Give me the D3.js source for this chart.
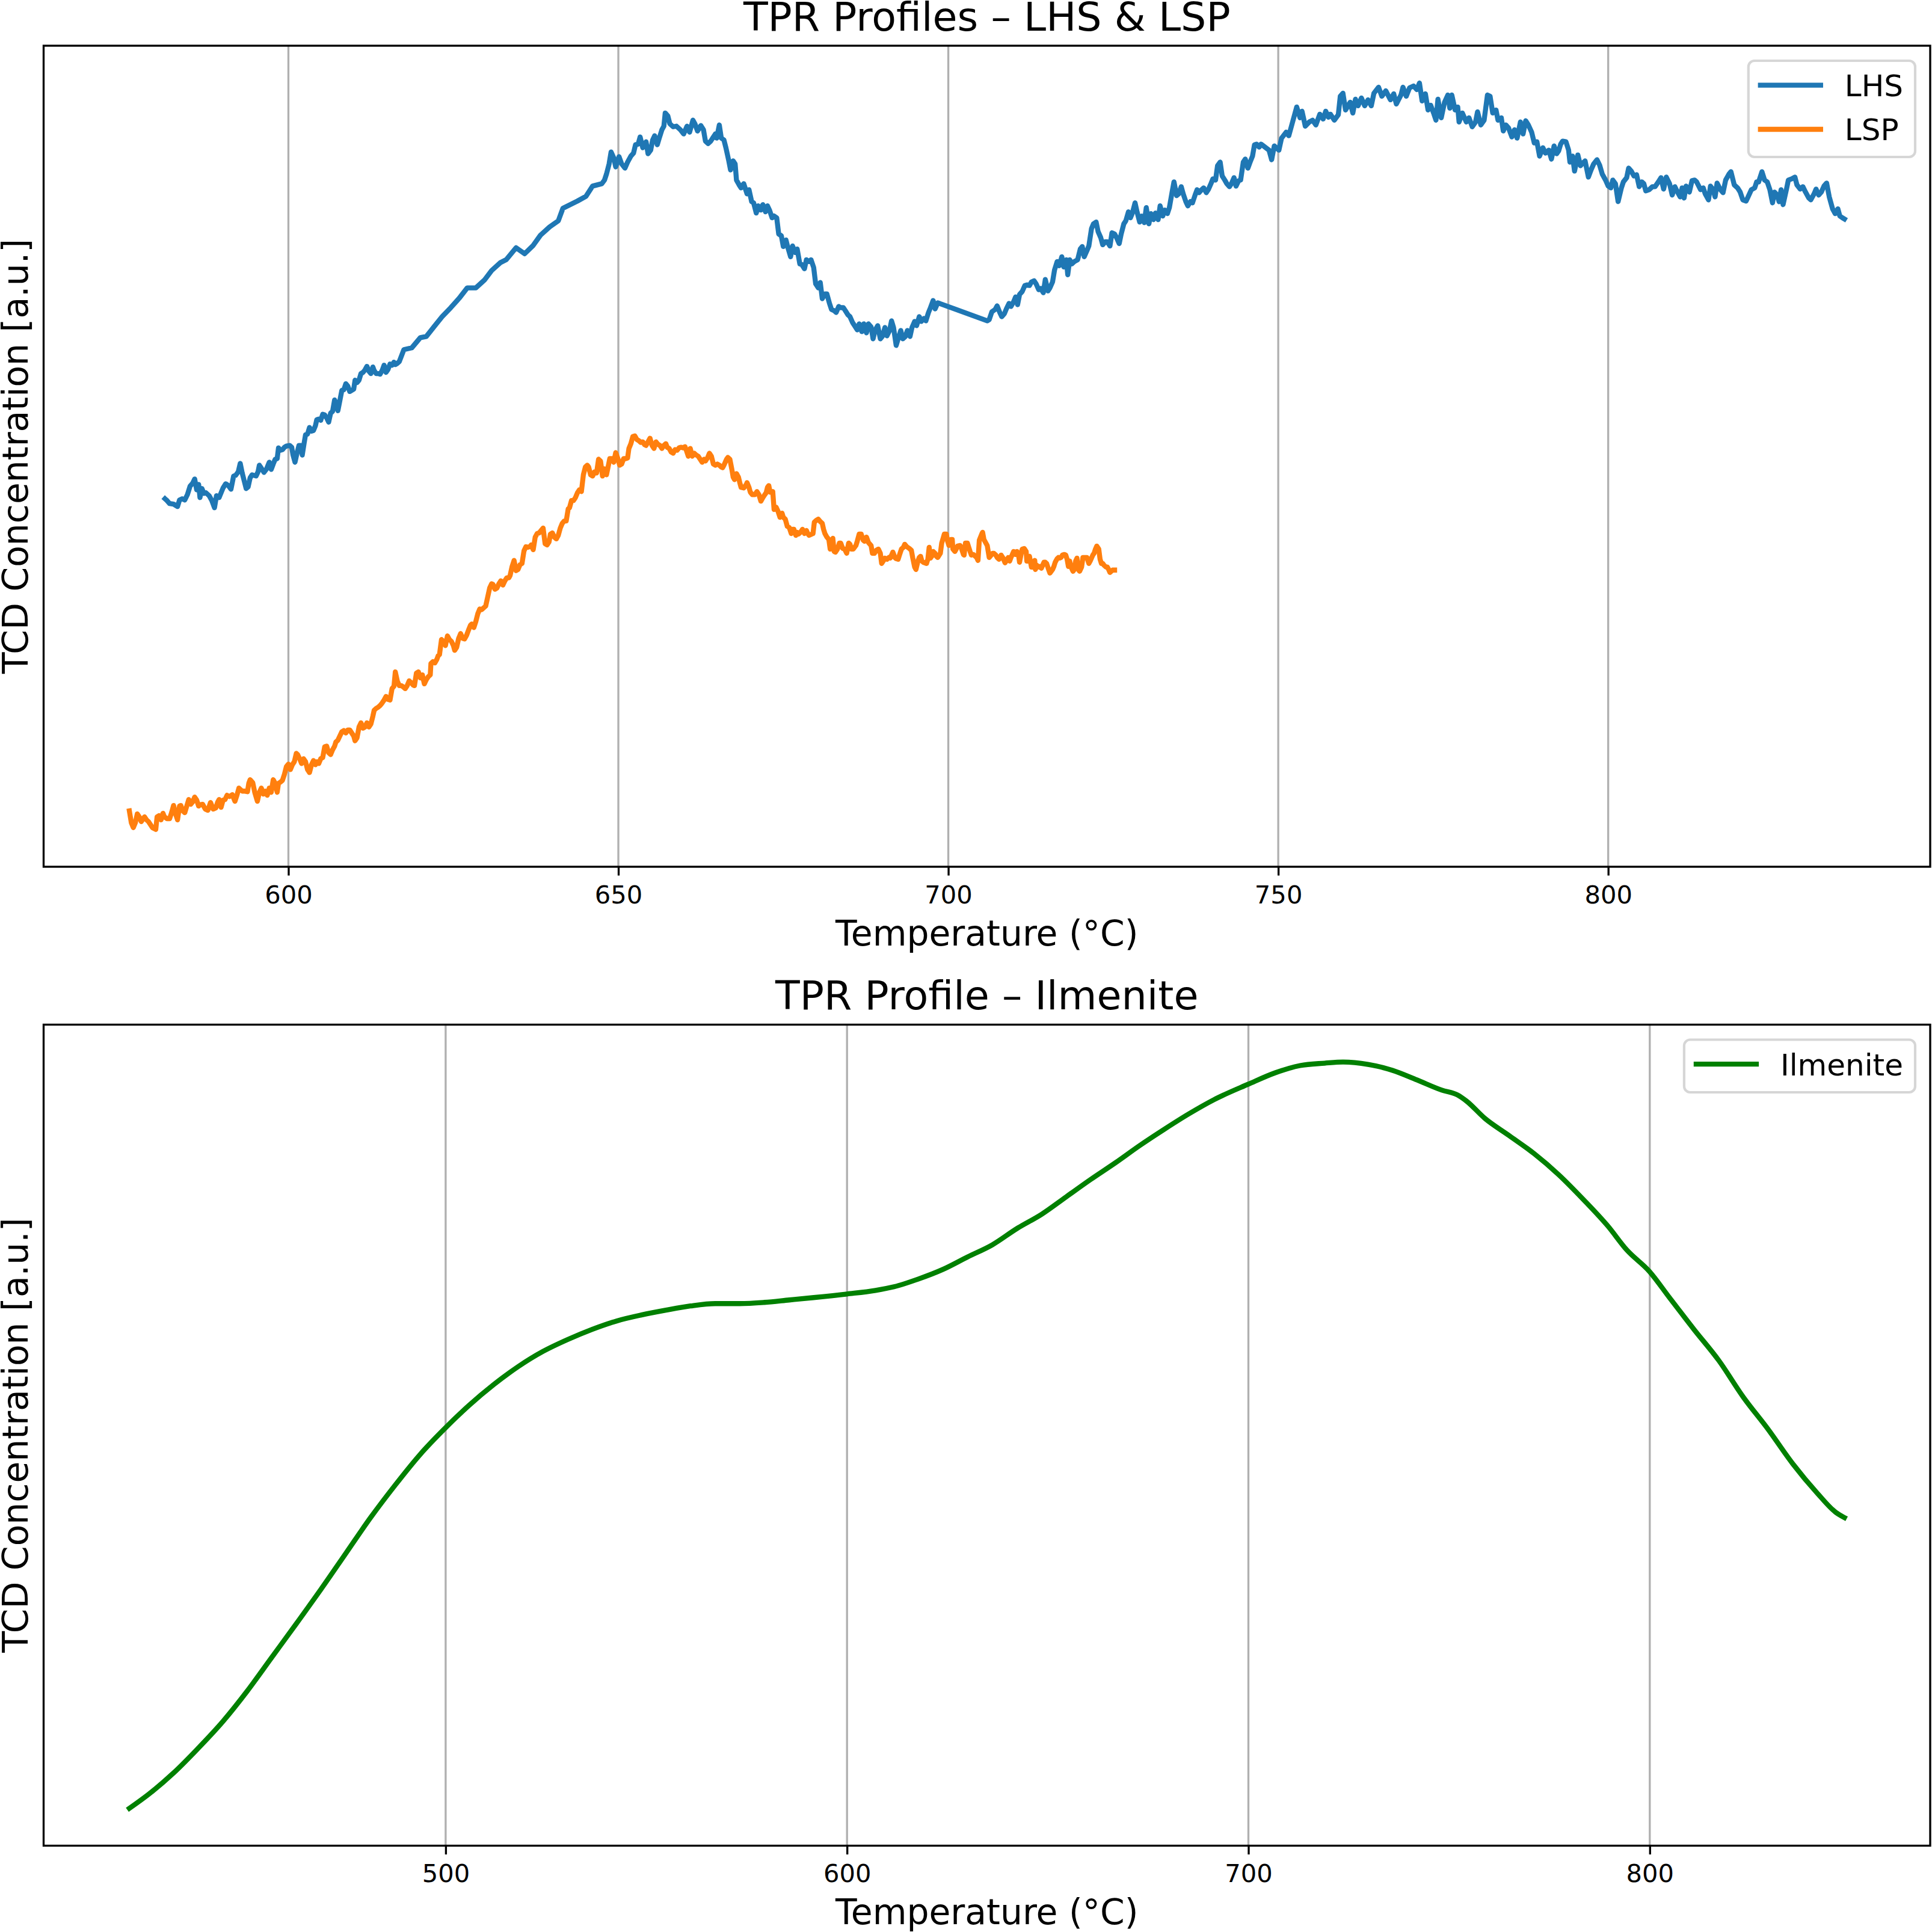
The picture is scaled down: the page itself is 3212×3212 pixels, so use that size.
<!DOCTYPE html>
<html>
<head>
<meta charset="utf-8">
<script src="https://cdn.jsdelivr.net/npm/d3@7"></script>
<style>
  body { margin: 0; background: #fff; }
  text { font-family: "DejaVu Sans", sans-serif; }
</style>
</head>
<body>
<svg id="chart"></svg>
<script>
// [temperature °C, TCD signal a.u.]
const lhsPoints = [
  [581.3,61.1],[581.6,60.8],[582.0,60.3],[582.6,60.2],[583.2,59.8],[583.5,60.9],[583.9,61.1],[584.3,60.9],[584.7,61.8],[585.1,63.2],
  [585.5,63.7],[585.8,64.4],[586.1,62.6],[586.4,63.5],[586.6,61.3],[586.9,62.8],[587.2,62.0],[587.5,62.1],[588.0,61.6],[588.4,60.8],
  [588.8,59.6],[589.1,61.6],[589.5,61.3],[589.8,62.1],[590.1,62.9],[590.5,63.6],[590.9,63.3],[591.3,62.7],[591.7,64.9],[592.0,65.0],
  [592.4,65.6],[592.7,67.0],[593.0,65.4],[593.3,64.1],[593.6,62.8],[593.9,63.1],[594.2,64.6],[594.5,65.1],[595.1,64.9],[595.4,65.6],
  [595.6,66.7],[595.9,66.2],[596.3,65.5],[596.7,66.1],[597.1,67.2],[597.4,66.0],[597.7,66.9],[598.0,67.7],[598.3,67.8],[598.5,69.6],
  [598.8,69.2],[599.1,69.3],[599.4,69.7],[599.7,69.9],[600.2,70.0],[600.5,69.7],[600.7,68.4],[601.0,67.2],[601.3,68.7],[601.6,70.0],
  [601.9,70.0],[602.1,68.4],[602.4,70.5],[602.6,71.8],[602.9,71.9],[603.2,73.0],[603.5,72.4],[603.8,72.5],[604.1,73.3],[604.3,74.3],
  [604.6,74.4],[604.9,74.2],[605.2,75.2],[605.5,75.1],[605.8,74.6],[606.1,73.9],[606.4,75.4],[606.7,75.7],[607.0,77.6],[607.2,77.1],
  [607.5,75.8],[607.8,77.5],[608.1,79.2],[608.4,79.3],[608.7,80.3],[609.0,79.9],[609.3,79.0],[609.6,79.2],[609.9,79.4],[610.1,80.9],
  [610.4,80.5],[610.7,80.9],[611.0,82.0],[611.3,82.2],[611.6,82.6],[611.9,83.2],[612.2,82.4],[612.5,82.0],[612.8,83.1],[613.0,82.5],
  [613.3,82.0],[613.6,82.0],[613.9,81.9],[614.2,82.5],[614.5,83.4],[614.8,82.2],[615.1,82.7],[615.4,83.6],[615.7,83.4],[616.0,83.9],
  [616.2,83.5],[616.5,83.7],[616.8,84.0],[617.5,86.0],[618.7,86.3],[620.0,88.0],[620.9,88.2],[622.2,90.0],[623.3,91.5],[624.6,93.0],
  [625.9,94.6],[627.1,96.3],[628.4,96.3],[629.7,97.6],[630.8,99.2],[632.1,100.5],[633.0,101.0],[634.5,103.0],[635.8,102.0],[637.1,103.4],
  [638.2,105.1],[639.6,106.5],[640.9,107.5],[641.6,109.6],[642.7,110.2],[643.8,110.8],[645.1,111.6],[646.1,113.3],
  [647.5,113.7],[647.9,114.3],[648.2,115.3],[648.6,117.0],[648.9,119.0],[649.3,118.0],[649.6,116.5],[650.1,118.2],[650.5,117.0],[651.0,116.3],
  [651.4,117.3],[651.9,118.3],[652.3,118.8],[652.6,120.2],[653.0,120.3],[653.3,121.5],[653.7,119.7],[654.2,120.7],[654.5,118.7],[654.9,119.3],
  [655.2,121.0],[655.5,121.7],[655.9,120.2],[656.2,121.3],[656.6,122.7],[656.9,123.3],[657.1,125.5],[657.5,125.0],[657.8,123.7],[658.3,123.2],
  [658.8,123.3],[659.4,122.7],[659.9,122.0],[660.4,123.3],[660.8,122.3],[661.3,124.3],[661.6,123.7],[662.0,122.5],[662.5,123.4],[662.9,122.7],
  [663.2,120.8],[663.6,120.4],[664.0,120.8],[664.4,121.5],[664.7,122.0],[664.9,121.3],[665.3,123.5],[665.6,121.3],[666.0,121.0],[666.3,119.7],
  [666.7,117.7],[667.0,116.0],[667.4,117.5],[667.7,117.0],[667.9,114.3],[668.3,113.5],[668.6,113.0],[669.0,113.7],[669.5,112.0],[669.8,112.7],
  [670.2,110.7],[670.5,110.5],[670.9,108.8],[671.2,110.0],[671.6,109.3],[671.9,110.2],[672.3,109.0],[672.6,110.0],[672.9,109.3],[673.3,108.0],
  [673.6,108.3],[674.0,108.0],[674.3,105.3],[674.7,105.0],[675.0,103.2],[675.4,104.3],[675.7,103.0],[676.1,101.5],[676.4,103.3],[676.8,102.2],
  [677.1,102.8],[677.5,100.3],[677.8,100.2],[678.2,99.5],[678.5,101.0],[678.9,100.7],[679.2,101.0],[679.6,99.7],[679.9,97.0],[680.3,96.3],
  [680.6,97.2],[680.9,94.5],[681.3,95.3],[681.6,95.3],[682.0,93.7],[682.3,92.7],[682.7,92.5],[683.0,92.2],[683.4,93.2],[683.7,93.0],
  [684.1,93.0],[684.4,92.5],[684.8,91.8],[685.1,91.5],[685.5,90.5],[685.8,90.0],[686.2,89.3],[686.5,90.3],[686.9,89.0],[687.2,90.3],
  [687.6,88.8],[687.9,90.3],[688.3,89.8],[688.6,87.8],[688.9,89.2],[689.3,90.0],[689.7,87.8],[690.0,88.2],[690.4,89.7],[690.7,88.3],
  [691.1,89.2],[691.4,90.8],[691.7,89.7],[692.1,86.7],[692.4,87.8],[692.8,89.2],[693.1,87.8],[693.5,88.2],[693.8,89.2],[694.2,88.2],
  [694.5,89.7],[694.9,90.7],[695.2,90.0],[695.6,91.5],[695.9,90.7],[696.3,91.2],[696.6,90.8],[697.0,92.2],[697.3,93.0],[697.7,94.2],
  [698.0,92.8],[698.4,93.8],[698.7,93.7],
  [705.9,90.8],[706.2,91.0],[706.6,92.3],[707.1,92.7],[707.4,93.3],[707.8,92.2],[708.1,91.5],[708.5,92.0],[708.8,92.8],[709.2,93.7],
  [709.5,93.2],[709.9,94.0],[710.2,94.8],[710.5,93.5],[710.8,95.2],[711.2,95.7],[711.6,96.7],[711.9,96.8],[712.3,96.7],[712.6,97.3],
  [713.0,97.5],[713.3,97.0],[713.7,96.0],[714.0,96.2],[714.4,95.5],[714.7,97.7],[715.1,95.8],[715.4,96.3],[715.8,97.3],[716.1,99.3],
  [716.5,100.7],[716.8,100.0],[717.2,101.5],[717.5,99.8],[717.9,101.0],[718.1,98.5],[718.4,101.0],[718.7,100.3],[719.1,100.7],[719.6,101.0],
  [720.0,102.8],[720.3,103.2],[720.6,101.5],[721.0,102.5],[721.3,103.3],[721.7,106.2],[722.0,107.0],[722.4,107.3],[722.7,105.7],[723.1,104.7],
  [723.4,103.5],[723.8,104.0],[724.1,104.0],[724.5,103.3],[724.8,105.5],[725.2,105.3],[725.5,104.7],[725.9,103.7],[726.2,105.3],[726.6,107.0],
  [726.9,107.5],[727.3,109.0],[727.6,108.0],[727.9,108.8],[728.3,110.5],[728.6,109.0],[729.0,107.3],[729.3,108.3],[729.7,107.2],[730.0,109.7],
  [730.4,107.0],[730.7,108.7],[731.1,107.7],[731.4,108.8],[731.8,107.7],[732.1,110.0],[732.5,108.3],[732.8,109.3],[733.2,108.7],[733.5,109.7],
  [733.9,112.2],[734.2,114.0],[734.6,111.7],[734.9,112.0],[735.3,113.2],[735.6,112.0],[736.0,110.7],[736.3,110.0],[736.7,110.7],[737.0,110.5],
  [737.4,111.8],[737.7,112.7],[738.0,112.2],[738.4,112.7],[738.7,113.0],[739.1,112.2],[739.4,112.7],[739.8,113.7],[740.1,114.5],[740.5,114.3],
  [740.8,116.7],[741.2,117.3],[741.5,115.0],[741.9,114.3],[742.2,113.7],[742.6,113.2],[742.9,113.7],[743.3,114.7],[743.6,113.3],[744.0,114.2],
  [744.3,114.3],[744.7,117.3],[745.0,117.8],[745.4,116.3],[745.7,117.2],[746.1,118.3],[746.4,120.2],[746.7,120.3],[747.1,119.8],[747.4,120.3],
  [748.6,119.3],[749.0,117.7],[749.4,120.0],[750.1,119.3],[750.5,121.3],[751.2,122.3],[751.6,121.7],[752.1,123.7],[752.8,126.5],[753.3,124.7],
  [753.6,125.8],[754.1,123.3],[754.7,124.0],[755.2,124.3],[755.7,123.5],[756.3,125.3],[756.8,124.5],[757.2,125.8],[757.6,124.8],[757.9,125.3],
  [758.5,124.3],[759.1,125.2],[759.4,128.3],[759.8,128.8],[760.2,126.0],[760.9,127.3],[761.3,125.5],[761.7,127.8],[762.1,126.7],[762.6,128.0],
  [763.1,126.7],[763.6,127.7],[764.1,126.7],[764.5,128.8],[765.2,129.8],[765.7,128.3],[766.3,129.2],[767.0,127.7],[767.5,128.7],[767.9,127.0],
  [768.6,128.5],[768.9,129.8],[769.4,128.3],[769.9,129.7],[770.5,130.0],[771.0,129.4],[771.4,130.5],[771.8,127.5],[772.3,128.7],[772.7,126.0],
  [773.1,126.8],[773.6,125.3],[773.9,124.3],[774.2,127.8],[774.7,124.7],[775.2,127.3],[775.7,128.5],[776.0,126.3],[776.3,128.5],[776.8,126.0],
  [777.2,126.5],[777.4,124.0],[777.9,125.5],[778.5,124.0],[778.9,124.7],[779.4,123.2],[779.9,124.0],[780.2,125.7],[780.7,123.5],[781.2,124.3],
  [781.7,128.5],[782.1,128.3],[782.5,125.5],[783.0,126.0],[783.3,124.3],[783.8,124.7],[784.1,122.5],[784.5,123.5],[784.9,123.0],[785.4,121.5],
  [785.8,122.7],[786.2,121.3],[786.7,124.0],[787.1,122.0],[787.5,124.2],[787.9,123.5],[788.4,122.3],[788.8,120.5],[789.2,120.7],[789.6,118.3],
  [790.1,119.7],[790.5,118.8],[791.0,119.3],[791.4,117.8],[791.8,120.0],[792.2,118.7],[792.5,119.2],[792.8,120.3],[793.1,120.8],[793.6,120.7],
  [794.0,119.3],[794.2,117.3],[794.6,118.3],[794.9,115.8],[795.4,118.5],[795.8,116.7],[796.2,117.2],[796.5,117.5],[797.0,114.8],[797.4,116.0],
  [797.8,117.0],[798.3,117.7],[798.7,116.8],[799.1,115.3],[799.6,114.3],[800.0,113.3],[800.4,113.0],[800.7,114.3],[801.1,113.7],[801.5,110.7],
  [802.0,113.0],[802.3,114.0],[802.8,114.7],[803.1,116.3],[803.5,115.8],[803.9,115.0],[804.3,115.2],[804.7,113.2],[805.1,114.0],[805.4,113.7],
  [805.7,112.5],[806.2,112.7],[806.7,113.2],[807.1,113.2],[807.6,114.0],[808.0,114.7],[808.4,112.8],[808.8,114.8],[809.3,113.7],[809.7,111.8],
  [810.1,113.2],[810.5,112.3],[810.9,111.5],[811.2,113.0],[811.5,111.3],[811.8,113.3],[812.3,112.3],[812.7,114.2],[813.1,114.3],[813.4,114.0],
  [814.0,112.7],[814.4,113.0],[814.7,112.0],[815.2,111.0],[815.5,113.3],[815.9,112.7],[816.2,111.5],[816.5,113.8],[817.0,112.7],[817.4,112.2],
  [817.8,114.3],[818.3,115.3],[818.6,115.7],[819.1,113.5],[819.6,113.0],[820.0,112.3],[820.4,111.0],[820.9,110.8],[821.2,111.5],[821.7,112.7],
  [822.2,113.0],[822.5,114.0],[822.8,114.0],[823.3,115.7],[823.7,114.3],[824.1,114.0],[824.5,112.7],[824.9,110.5],[825.2,112.3],[825.6,111.8],
  [825.9,110.7],[826.2,112.7],[826.5,110.2],[827.0,112.7],[827.3,114.3],[827.8,114.5],[828.3,114.8],[828.6,113.5],[829.1,112.8],[829.5,113.2],
  [829.9,112.3],[830.4,111.3],[830.7,111.0],[831.2,112.0],[831.5,112.8],[831.9,111.8],[832.3,112.3],[832.7,113.3],[833.1,113.8],[833.5,111.5],
  [834.0,109.5],[834.4,108.7],[834.8,109.5],[835.1,108.3],[835.5,108.0],[835.8,107.8]
];

const lspPoints = [
  [575.9,9.0],[576.2,7.0],[576.5,6.2],[576.8,7.0],[577.1,8.5],[577.4,8.0],[577.7,7.2],[578.0,7.7],[578.2,8.0],[578.5,7.5],
  [578.8,7.2],[579.1,6.7],[579.4,6.2],[579.9,5.9],[580.1,8.0],[580.4,8.2],[580.7,7.5],[581.0,8.6],[581.2,8.0],[581.6,7.7],
  [582.0,7.7],[582.3,8.7],[582.6,9.9],[582.9,8.5],[583.2,7.5],[583.5,9.8],[583.7,9.9],[584.0,9.0],[584.3,8.7],[584.6,9.8],
  [584.9,10.9],[585.2,10.1],[585.5,10.5],[585.8,11.3],[586.1,10.8],[586.4,9.8],[586.6,10.0],[587.0,10.1],[587.4,9.3],[587.8,9.1],
  [588.2,10.4],[588.6,9.3],[589.0,9.5],[589.3,10.5],[589.5,10.9],[589.8,9.6],[590.1,10.8],[590.4,10.9],[590.7,11.6],[591.1,11.4],
  [591.5,11.7],[591.9,10.6],[592.2,11.6],[592.5,12.8],[592.7,12.6],[593.0,12.3],[593.3,12.3],[593.8,12.2],[594.0,13.6],[594.2,14.2],
  [594.6,13.7],[594.9,12.1],[595.3,10.6],[595.6,12.1],[595.9,12.8],[596.2,11.8],[596.5,12.3],[596.8,11.6],[597.1,12.8],[597.4,12.1],
  [597.7,14.2],[598.0,13.6],[598.3,12.1],[598.5,13.6],[598.8,13.8],[599.1,14.1],[599.4,15.1],[599.7,16.4],[600.0,16.8],[600.3,15.9],
  [600.6,16.7],[600.9,17.2],[601.2,18.6],[601.4,18.4],[601.7,17.7],[602.0,16.9],[602.3,17.7],[602.6,17.2],[602.9,15.9],[603.2,15.4],
  [603.5,16.7],[603.8,17.4],[604.1,16.7],[604.3,17.2],[604.6,16.9],[604.9,17.7],[605.2,17.9],[605.5,19.7],[605.8,19.8],[606.1,18.7],
  [606.4,18.4],[606.7,19.2],[607.0,19.8],[607.2,20.5],[607.5,20.8],[607.8,21.5],[608.1,22.2],[608.4,22.4],[608.7,22.0],[609.0,22.5],
  [609.3,22.5],[609.6,22.0],[609.9,21.5],[610.1,20.7],[610.4,21.2],[610.7,23.0],[611.0,23.7],[611.3,22.8],[611.6,23.0],[611.9,23.7],
  [612.2,23.0],[612.5,23.5],[612.8,24.8],[613.0,25.8],[613.3,26.1],[613.6,26.3],[613.9,26.6],[614.2,27.0],[614.5,27.5],[614.8,28.1],
  [615.1,27.6],[615.4,27.5],[615.7,29.4],[616.0,29.8],[616.2,32.2],[616.5,30.7],[616.8,29.9],[617.1,29.9],[617.4,29.7],[617.7,29.4],
  [618.0,29.9],[618.3,30.7],[618.6,30.4],[618.9,30.0],[619.1,29.9],[619.4,32.0],[619.7,32.2],[620.0,31.2],[620.3,31.7],[620.6,30.2],
  [620.9,30.9],[621.2,31.4],[621.5,31.7],[621.6,33.6],[621.9,33.9],[622.2,33.7],[622.5,34.3],[622.7,34.9],[622.9,35.1],[623.2,37.6],
  [623.5,37.3],[623.8,36.6],[624.1,38.2],[624.4,37.6],[624.7,37.3],[625.0,36.6],[625.2,35.8],[625.5,36.3],[625.8,37.8],[626.1,38.6],
  [626.4,37.8],[626.7,37.7],[627.0,38.3],[627.3,39.2],[627.6,40.0],[627.8,40.2],[628.1,39.6],[628.4,40.6],[628.7,41.9],[629.0,42.7],
  [629.3,42.6],[629.6,42.9],[629.9,43.2],[630.2,44.7],[630.5,46.2],[630.8,46.9],[631.0,46.8],[631.3,46.0],[631.6,46.2],[631.9,46.9],
  [632.2,47.4],[632.5,46.7],[632.8,47.4],[633.1,47.9],[633.4,47.9],[633.6,48.3],[633.9,49.8],[634.2,50.8],[634.5,49.1],[634.8,49.3],
  [635.1,50.1],[635.4,50.3],[635.7,52.4],[636.0,53.1],[636.3,53.0],[636.6,53.1],[636.8,53.4],[637.1,52.6],[637.4,54.7],[637.7,55.3],
  [638.0,55.4],[638.3,55.8],[638.6,56.2],[638.9,53.6],[639.2,53.4],[639.5,53.9],[639.7,55.2],[640.0,55.4],[640.3,54.7],[640.6,54.4],
  [640.9,55.0],[641.2,56.2],[641.5,57.0],[641.8,57.4],[642.1,57.4],[642.4,59.4],[642.6,59.6],[642.9,60.8],[643.2,60.8],[643.5,61.3],
  [643.8,62.1],[644.1,62.6],[644.4,62.3],[644.7,65.1],[645.0,66.4],[645.3,66.7],[645.5,66.4],[645.8,65.1],[646.1,64.9],[646.4,65.6],
  [646.7,65.4],[647.0,67.7],[647.3,67.4],[647.6,64.9],[647.9,66.1],[648.2,65.1],[648.5,66.7],[648.7,67.8],[649.0,67.8],[649.3,67.2],
  [649.6,68.8],[649.9,67.9],[650.2,66.7],[650.5,66.9],[650.8,67.8],[651.1,67.8],[651.4,67.9],[651.6,69.5],[651.9,70.3],[652.2,71.5],
  [652.5,71.6],[652.8,71.0],[653.1,70.8],[653.4,70.5],[653.7,70.6],[654.0,70.1],[654.2,70.0],[654.5,70.6],[654.8,71.2],[655.1,70.0],
  [655.4,69.5],[655.7,70.6],[656.0,70.2],[656.3,70.0],[656.6,69.5],[656.9,70.0],[657.2,70.3],[657.4,69.7],[657.7,69.5],[658.0,68.9],
  [658.3,68.7],[658.6,69.3],[658.9,69.2],[659.2,69.6],[659.5,69.7],[659.8,69.6],[660.1,69.8],[660.3,69.2],[660.6,68.2],[660.9,69.5],
  [661.2,68.2],[661.5,68.7],[661.8,68.4],[662.1,68.2],[662.4,67.7],[662.7,67.2],[663.0,67.7],[663.2,67.4],[663.5,67.9],[663.8,68.7],
  [664.1,68.2],[664.4,66.9],[664.7,66.7],[665.0,66.9],[665.3,66.7],[665.6,66.4],
  [665.8,66.3],[666.0,66.7],[666.2,67.2],[666.4,67.7],[666.6,68.0],[666.9,67.7],[667.2,66.0],[667.4,64.7],[667.6,64.3],[667.9,65.3],
  [668.2,64.7],[668.4,63.8],[668.6,63.0],[669.0,62.9],[669.4,63.5],[669.5,63.8],[669.8,63.0],[670.0,62.2],[670.3,61.8],[670.7,61.8],
  [671.0,62.3],[671.3,61.8],[671.6,60.7],[671.9,61.3],[672.2,61.8],[672.4,62.1],[672.6,63.0],[672.8,63.3],[673.0,62.2],[673.4,62.3],
  [673.6,59.3],[673.9,59.7],[674.2,59.0],[674.5,58.0],[674.8,58.7],[675.0,58.0],[675.3,57.7],[675.6,56.5],[675.9,56.3],[676.2,55.3],
  [676.4,56.0],[676.6,56.0],[676.9,55.0],[677.1,55.5],[677.3,55.2],[677.6,55.5],[677.9,56.0],[678.2,55.3],[678.5,55.8],[678.7,55.3],
  [678.9,55.0],[679.3,55.2],[679.5,55.3],[679.7,57.2],[680.0,57.5],[680.3,57.7],[680.6,57.3],[680.9,57.0],[681.1,56.0],[681.3,55.3],
  [681.6,54.7],[681.9,54.3],[682.1,52.7],[682.3,52.8],[682.5,54.5],[682.7,52.3],[682.9,52.2],[683.2,52.7],[683.5,53.7],[683.7,53.7],
  [684.0,52.8],[684.3,52.7],[684.6,52.0],[684.9,53.7],[685.1,53.5],[685.3,52.7],[685.6,52.7],[686.0,53.3],[686.2,54.0],[686.5,55.2],
  [686.8,55.2],[687.1,54.2],[687.3,54.0],[687.6,54.7],[687.9,53.8],[688.3,53.3],[688.5,52.0],[688.8,52.0],[689.1,52.5],[689.4,52.7],
  [689.7,52.0],[689.9,50.3],[690.2,50.8],[690.4,51.2],[690.7,51.0],[691.0,51.3],[691.2,51.2],[691.6,52.2],[691.9,51.3],[692.1,51.1],
  [692.4,51.0],[692.6,51.7],[692.9,52.7],[693.2,53.0],[693.4,53.5],[693.7,53.1],[694.1,52.8],[694.4,52.5],[694.6,51.3],[694.9,49.7],
  [695.1,49.3],[695.4,50.7],[695.6,51.3],[695.8,51.5],[696.0,50.7],[696.2,50.5],[696.7,50.3],[696.9,51.0],[697.1,53.0],[697.3,51.2],
  [697.5,51.5],[697.7,52.3],[698.0,52.0],[698.2,51.5],[698.4,51.3],[698.8,52.0],[699.0,53.7],[699.4,55.2],[699.7,55.2],[699.9,54.0],
  [700.1,53.3],[700.4,54.3],[700.6,54.3],[700.7,52.7],[701.0,52.3],[701.2,52.7],[701.4,53.2],[701.8,53.3],[702.0,52.8],[702.3,51.8],
  [702.4,51.7],[702.6,53.7],[702.9,53.7],[703.1,53.0],[703.3,52.3],[703.5,51.7],[703.8,51.8],[704.1,51.5],[704.3,51.3],[704.5,50.8],
  [704.7,54.2],[705.1,55.3],[705.2,55.5],[705.4,54.3],[705.7,53.7],[705.9,53.3],[706.2,51.3],[706.5,51.7],[706.7,52.0],[706.9,52.0],
  [707.2,51.7],[707.4,51.3],[707.7,51.0],[708.0,51.7],[708.3,51.2],[708.6,50.4],[708.8,50.8],[709.1,51.3],[709.3,50.7],[709.5,51.3],
  [709.7,51.8],[709.9,52.3],[710.2,51.8],[710.4,52.3],[710.6,52.0],[710.8,50.5],[711.0,51.7],[711.2,52.7],[711.5,52.8],[711.8,52.3],
  [711.9,50.7],[712.1,50.7],[712.3,51.5],[712.6,49.7],[712.9,49.7],[713.1,50.8],[713.2,49.3],[713.4,50.0],[713.6,49.7],[713.8,49.8],
  [714.1,49.5],[714.3,50.0],[714.5,50.5],[714.7,50.5],[714.9,50.3],[715.2,49.3],[715.4,48.7],[715.6,49.0],[715.8,49.3],[716.0,49.8],
  [716.2,50.5],[716.5,51.1],[716.7,51.3],[716.9,51.2],[717.1,51.3],[717.3,51.7],[717.6,51.8],[717.8,51.7],[718.0,51.0],[718.2,49.8],
  [718.4,50.7],[718.6,49.7],[718.9,49.0],[719.1,49.3],[719.3,50.7],[719.5,51.2],[719.7,49.3],[719.9,49.0],[720.2,49.7],[720.4,51.3],
  [720.6,51.3],[720.8,51.3],[721.0,51.3],[721.3,50.3],[721.5,50.7],[721.7,51.2],[721.9,51.7],[722.1,52.0],[722.3,52.7],[722.5,53.2],
  [722.8,52.7],[723.0,51.0],[723.2,50.3],[723.4,50.3],[723.6,50.0],[723.9,49.7],[724.1,49.7],[724.3,49.3],[724.5,48.8],[724.7,49.0],
  [724.9,49.2],[725.2,49.2]
];

const ilmenitePoints = [
  [421.2,5.8],[426.1,8.2],[432.2,11.7],[438.3,15.8],[444.5,20.3],[450.6,25.4],[456.7,31.0],[462.9,36.7],[469.0,42.4],[475.2,48.4],
  [481.3,54.3],[487.4,59.7],[493.6,64.8],[500.0,69.3],[505.8,73.0],[512.0,76.5],[518.1,79.5],[524.2,82.0],[530.4,84.0],[536.5,85.7],
  [542.6,87.1],[548.8,88.1],[554.9,88.9],[561.0,89.6],[567.2,90.0],[573.3,90.0],[579.4,90.2],[585.6,90.6],[591.7,91.0],[600.0,91.6],
  [607.1,92.2],[611.7,92.8],[617.8,94.1],[623.9,95.7],[630.1,97.8],[636.2,99.8],[642.3,102.5],[648.5,104.9],[654.6,107.8],[660.7,110.7],
  [666.9,113.5],[673.0,116.4],[679.1,119.1],[685.3,121.7],[691.4,124.0],[700.0,126.6],[706.7,128.5],[712.9,129.7],[719.0,130.1],[723.6,130.3],
  [729.8,129.9],[735.9,128.9],[742.0,127.3],[748.2,125.6],[752.1,124.8],[754.3,123.8],[758.9,120.9],[765.0,118.0],[771.2,115.0],[777.3,111.5],
  [783.4,107.4],[789.6,102.9],[794.2,99.0],[800.0,95.3],[804.9,91.0],[811.0,85.7],[817.2,80.5],[823.3,74.4],[829.4,69.1],[835.6,63.3],
  [841.7,58.4],[846.3,55.2],[848.5,54.3]
];

const topSeries = [
  { name: "LHS", color: "#1f77b4", points: lhsPoints, curve: d3.curveLinear },
  { name: "LSP", color: "#ff7f0e", points: lspPoints, curve: d3.curveLinear }
];
const bottomSeries = [
  { name: "Ilmenite", color: "#008000", points: ilmenitePoints, curve: d3.curveMonotoneX }
];
const topTicks = [600, 650, 700, 750, 800];
const bottomTicks = [500, 600, 700, 800];
const topTitle = "TPR Profiles – LHS & LSP";
const bottomTitle = "TPR Profile – Ilmenite";
const xLabel = "Temperature (°C)";
const yLabel = "TCD Concentration [a.u.]";

const width = 3212;
const height = 3212;
const pt = 300 / 72; // matplotlib points at 300 dpi
const left = 72.5;
const right = 3209;

const svg = d3.select("#chart")
  .attr("width", width)
  .attr("height", height)
  .style("background", "#fff");

function padded(values) {
  const [lo, hi] = d3.extent(values);
  const pad = (hi - lo) * 0.05;
  return [lo - pad, hi + pad];
}

function drawPanel(top, bottom, series, ticks, title) {
  const all = series.flatMap(s => s.points);
  const x = d3.scaleLinear(padded(all.map(d => d[0])), [left, right]);
  const y = d3.scaleLinear(padded(all.map(d => d[1])), [bottom, top]);
  const g = svg.append("g");

  // grid
  g.append("g")
    .selectAll("line")
    .data(ticks)
    .join("line")
    .attr("x1", d => x(d))
    .attr("x2", d => x(d))
    .attr("y1", top)
    .attr("y2", bottom)
    .style("stroke", "#b0b0b0")
    .style("stroke-width", 0.8 * pt);

  g.append("g")
    .selectAll("path")
    .data(series)
    .join("path")
    .attr("d", d => d3.line().x(p => x(p[0])).y(p => y(p[1])).curve(d.curve)(d.points))
    .style("fill", "none")
    .style("stroke", d => d.color)
    .style("stroke-width", 2 * pt)
    .style("stroke-linejoin", "round")
    .style("stroke-linecap", "square");

  // frame
  g.append("rect")
    .attr("x", left)
    .attr("y", top)
    .attr("width", right - left)
    .attr("height", bottom - top)
    .style("fill", "none")
    .style("stroke", "#000")
    .style("stroke-width", 0.8 * pt);

  const axis = g.append("g")
    .attr("transform", `translate(0, ${bottom})`)
    .call(d3.axisBottom(x).tickValues(ticks).tickSize(3.5 * pt).tickPadding(16.5).tickFormat(d3.format("d")));
  axis.select(".domain").remove();
  axis.selectAll(".tick line").style("stroke-width", 0.8 * pt);
  axis.selectAll(".tick text")
    .style("font-family", "DejaVu Sans")
    .style("font-size", `${10 * pt}px`)
    .style("fill", "#000");

  g.append("text")
    .attr("x", (left + right) / 2)
    .attr("y", bottom + 130.5)
    .attr("text-anchor", "middle")
    .style("font-size", `${14 * pt}px`)
    .text(xLabel);

  g.append("text")
    .attr("transform", `translate(46, ${(top + bottom) / 2}) rotate(-90)`)
    .attr("text-anchor", "middle")
    .style("font-size", `${14 * pt}px`)
    .text(yLabel);

  g.append("text")
    .attr("x", (left + right) / 2)
    .attr("y", top - 25.3)
    .attr("text-anchor", "middle")
    .style("font-size", `${16 * pt}px`)
    .text(title);

  // legend, upper right
  const fs = 12 * pt;
  const leg = g.append("g");
  const box = leg.append("rect");
  const items = leg.selectAll("g.item")
    .data(series)
    .join("g")
    .attr("class", "item");
  const boxTop = top + 0.5 * fs;
  const rowPitch = 73.3;
  const texts = items.append("text")
    .attr("y", (d, i) => boxTop + 59 + i * rowPitch)
    .style("font-size", `${fs}px`)
    .text(d => d.name);
  const textW = d3.max(texts.nodes(), n => n.getComputedTextLength());
  const boxW = 0.4 * fs + 2 * fs + 0.8 * fs + textW + 0.4 * fs;
  const boxRight = right - 0.5 * fs;
  const boxLeft = boxRight - boxW;
  const boxH = 40 + 47.5 * series.length + 25 * (series.length - 1);
  box.attr("x", boxLeft)
    .attr("y", boxTop)
    .attr("width", boxW)
    .attr("height", boxH)
    .attr("rx", 0.2 * fs)
    .style("fill", "rgba(255,255,255,0.8)")
    .style("stroke", "#cccccc")
    .style("stroke-opacity", 0.8)
    .style("stroke-width", 1 * pt);
  items.append("line")
    .attr("x1", boxLeft + 0.4 * fs)
    .attr("x2", boxLeft + 0.4 * fs + 2 * fs)
    .attr("y1", (d, i) => boxTop + 40.7 + i * rowPitch)
    .attr("y2", (d, i) => boxTop + 40.7 + i * rowPitch)
    .style("stroke", d => d.color)
    .style("stroke-width", 2 * pt)
    .style("stroke-linecap", "square");
  texts.attr("x", boxLeft + 0.4 * fs + 2 * fs + 0.8 * fs);
}

drawPanel(76, 1441, topSeries, topTicks, topTitle);
drawPanel(1703.5, 3068.5, bottomSeries, bottomTicks, bottomTitle);
</script>
</body>
</html>
